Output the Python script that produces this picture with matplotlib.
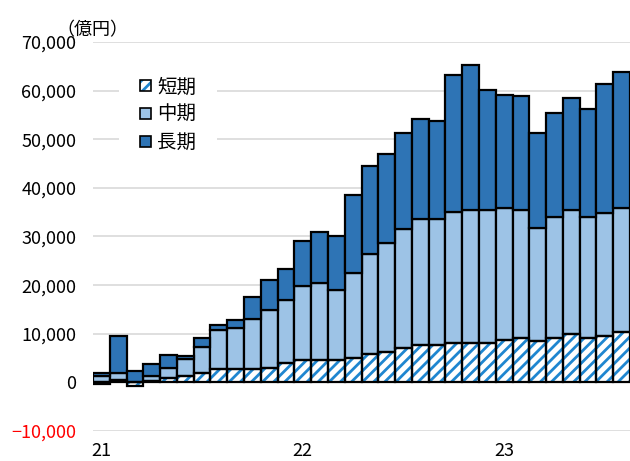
import numpy as np
import matplotlib
matplotlib.use('Agg')
import matplotlib.pyplot as plt
import matplotlib.patches as mpatches

plt.rcParams['font.family'] = ['Noto Sans CJK JP', 'DejaVu Sans']
plt.rcParams['hatch.linewidth'] = 2.0

# 月次 2021/1 - 2023/8（億円）
short = [-400, 400, -800, 300, 1000, 1300, 1900, 2800,
         2800, 2700, 3000, 3900, 4600, 4600, 4600, 5100,
         5900, 6300, 7000, 7700, 7700, 8000, 8000, 8000,
         8800, 9200, 8500, 9200, 9900, 9200, 9600, 10300]
mid = [1400, 1600, 100, 1000, 2050, 3600, 5400, 7900,
       8460, 10400, 11900, 13100, 15200, 15800, 14300, 17400,
       20600, 22400, 24500, 26000, 26000, 27100, 27450, 27450,
       27000, 26300, 23300, 24900, 25500, 24900, 25200, 25500]
long = [600, 7500, 2200, 2500, 2600, 600, 1900, 1000,
        1600, 4500, 6200, 6300, 9200, 10500, 11100, 16000,
        17900, 18300, 19800, 20500, 20100, 28150, 29850, 24770,
        23400, 23350, 19400, 21200, 23000, 22200, 26600, 28100]
labels = ['短期', '中期', '長期']
xtick_pos = [0, 12, 24]
xtick_labels = ['21', '22', '23']
yticks = [-10000, 0, 10000, 20000, 30000, 40000, 50000, 60000, 70000]

c_long = '#2e74b5'
c_mid = '#9dc3e6'
c_hatch = '#1f86d0'

fig = plt.figure(figsize=(6.3, 4.61), dpi=100)
ax = fig.add_axes([93 / 630, 30 / 461, 537 / 630, 389 / 461])

x = np.arange(len(short))
pos_base = np.zeros(len(x))
neg_base = np.zeros(len(x))
for vals, name in zip([short, mid, long], labels):
    v = np.array(vals, dtype=float)
    bottom = np.where(v >= 0, pos_base, neg_base)
    if name == '短期':
        # 斜線は青、枠は黒
        ax.bar(x, v, bottom=bottom, width=1.0, color='white', edgecolor=c_hatch,
               hatch='///', linewidth=0, zorder=3)
        ax.bar(x, v, bottom=bottom, width=1.0, fill=False, edgecolor='black',
               linewidth=1.6, zorder=4)
    else:
        col = c_mid if name == '中期' else c_long
        ax.bar(x, v, bottom=bottom, width=1.0, color=col, edgecolor='black',
               linewidth=1.6, zorder=3)
    pos_base += np.clip(v, 0, None)
    neg_base += np.clip(v, None, 0)

ax.set_xlim(-0.5, 31.5)
ax.set_ylim(-10000, 70000)
ax.set_yticks(yticks)
ax.set_yticklabels([f'{t:,}'.replace('-', '−') for t in yticks])
for t, lab in zip(yticks, ax.get_yticklabels()):
    if t < 0:
        lab.set_color('red')
ax.set_xticks(xtick_pos)
ax.set_xticklabels(xtick_labels)
ax.tick_params(axis='y', length=0, pad=12, labelsize=13)
ax.tick_params(axis='x', length=0, pad=8, labelsize=13)
for sp in ax.spines.values():
    sp.set_visible(False)
ax.grid(axis='y', color='#d9d9d9', linewidth=1.2, zorder=0)
ax.set_axisbelow(True)

fig.text(56 / 630, 1 - 30 / 461, '（億円）', fontsize=13, va='center', ha='left')

# 凡例
h_short = (mpatches.Patch(facecolor='white', edgecolor=c_hatch, hatch='///', linewidth=0),
           mpatches.Patch(fill=False, edgecolor='black', linewidth=1.2))
hs = [h_short,
      mpatches.Patch(facecolor=c_mid, edgecolor='black', linewidth=1.2),
      mpatches.Patch(facecolor=c_long, edgecolor='black', linewidth=1.2)]
leg = ax.legend(hs, labels, loc='upper left', bbox_to_anchor=(119 / 630, 1 - 55 / 461),
                bbox_transform=fig.transFigure, fontsize=14, frameon=True,
                framealpha=1, edgecolor='none', fancybox=False, borderpad=1.1,
                handlelength=0.55, handleheight=0.5, handletextpad=0.3,
                labelspacing=0.35, borderaxespad=0)
leg.set_zorder(5)

fig.savefig('out.png', dpi=100)
